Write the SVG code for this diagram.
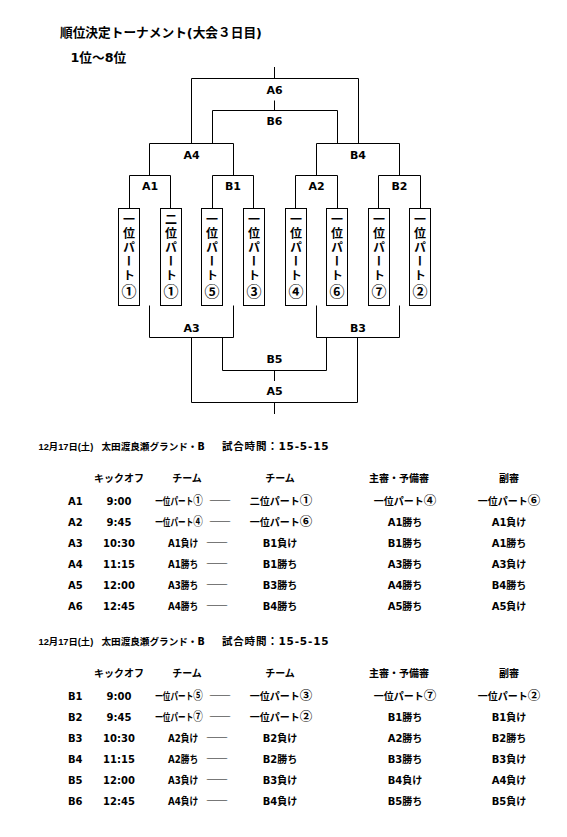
<svg xmlns="http://www.w3.org/2000/svg" width="567" height="837" viewBox="0 0 567 837">
<style>
.ln{fill:none;stroke:#000;stroke-width:1}
.bx{fill:#fff;stroke:#000;stroke-width:1}
.lb{font-family:"DejaVu Sans","Noto Sans CJK JP",sans-serif;font-weight:bold;font-size:11px;text-anchor:middle;fill:#000}
.vt{font-family:"Noto Sans CJK JP",sans-serif;font-weight:bold;font-size:12px;writing-mode:vertical-rl;text-anchor:middle;letter-spacing:2px;fill:#000}
.vc{font-size:15px}
.ttl{font-family:"DejaVu Sans","Noto Sans CJK JP",sans-serif;font-weight:bold;font-size:12.7px;fill:#000}
.tb{font-family:"DejaVu Sans","Noto Sans CJK JP",sans-serif;font-weight:bold;font-size:10px;text-anchor:middle;fill:#000}
.cd{font-family:"Noto Sans CJK JP",sans-serif;font-size:12.5px}
.id{font-family:"DejaVu Sans",sans-serif;font-weight:bold;font-size:10px;text-anchor:start;fill:#000}
.ds{font-family:"Noto Sans CJK JP",sans-serif;font-weight:normal;font-size:11px;text-anchor:middle;fill:#000}
.hd{font-family:"DejaVu Sans","Noto Sans CJK JP",sans-serif;font-weight:bold;font-size:9.6px;fill:#000}
.hs{font-family:"DejaVu Sans","Noto Sans CJK JP",sans-serif;font-weight:bold;font-size:10.5px;letter-spacing:0.8px;fill:#000}
.dt{font-family:"Liberation Sans","Noto Sans CJK JP",sans-serif;font-weight:bold;font-size:9.3px;fill:#000}
</style>
<rect width="567" height="837" fill="#fff"/>
<text class="ttl" x="60" y="37">順位決定トーナメント(大会３日目)</text>
<text class="ttl" x="70.5" y="62">1位～8位</text>

<g id="connectors">
<path class="ln" d="M274.5,67V78.5M274.5,100.5V110.5M274.5,370.5V381M274.5,402.5V414"/>
</g>

<g id="A6"><path class="ln" d="M191.5,143.5V78.5H358.5V143.5"/><text class="lb" x="274.5" y="93.5">A6</text></g>
<g id="B6"><path class="ln" d="M212.5,143.5V110.5H337.5V143.5"/><text class="lb" x="274.5" y="125">B6</text></g>
<g id="A4"><path class="ln" d="M149.5,175.5V143.5H233.5V175.5"/><text class="lb" x="191.5" y="158.5">A4</text></g>
<g id="B4"><path class="ln" d="M316.5,175.5V143.5H399.5V175.5"/><text class="lb" x="358" y="158.5">B4</text></g>
<g id="A1"><path class="ln" d="M129.5,208.5V175.5H170.5V208.5"/><text class="lb" x="150" y="190">A1</text></g>
<g id="B1"><path class="ln" d="M212.5,208.5V175.5H253.5V208.5"/><text class="lb" x="233" y="190">B1</text></g>
<g id="A2"><path class="ln" d="M295.5,208.5V175.5H337.5V208.5"/><text class="lb" x="316.5" y="190">A2</text></g>
<g id="B2"><path class="ln" d="M378.5,208.5V175.5H420.5V208.5"/><text class="lb" x="399.5" y="190">B2</text></g>
<g id="A3"><path class="ln" d="M149.5,305.5V337.5H233.5V305.5"/><text class="lb" x="191.5" y="331.5">A3</text></g>
<g id="B3"><path class="ln" d="M316.5,305.5V337.5H399.5V305.5"/><text class="lb" x="358" y="331.5">B3</text></g>
<g id="B5"><path class="ln" d="M222.5,337.5V370.5H326.5V337.5"/><text class="lb" x="274.5" y="363">B5</text></g>
<g id="A5"><path class="ln" d="M191.5,337.5V402.5H357.5V337.5"/><text class="lb" x="274.5" y="395">A5</text></g>

<g id="p1"><rect class="bx" x="118.5" y="208.5" width="21" height="97"/><text class="vt" x="129" y="257">一位パート<tspan class="vc">①</tspan></text></g>
<g id="p2"><rect class="bx" x="160.5" y="208.5" width="21" height="97"/><text class="vt" x="171" y="257">二位パート<tspan class="vc">①</tspan></text></g>
<g id="p3"><rect class="bx" x="201.5" y="208.5" width="21" height="97"/><text class="vt" x="212" y="257">一位パート<tspan class="vc">⑤</tspan></text></g>
<g id="p4"><rect class="bx" x="243.5" y="208.5" width="21" height="97"/><text class="vt" x="254" y="257">一位パート<tspan class="vc">③</tspan></text></g>
<g id="p5"><rect class="bx" x="285.5" y="208.5" width="21" height="97"/><text class="vt" x="296" y="257">一位パート<tspan class="vc">④</tspan></text></g>
<g id="p6"><rect class="bx" x="326.5" y="208.5" width="21" height="97"/><text class="vt" x="337" y="257">一位パート<tspan class="vc">⑥</tspan></text></g>
<g id="p7"><rect class="bx" x="368.5" y="208.5" width="21" height="97"/><text class="vt" x="379" y="257">一位パート<tspan class="vc">⑦</tspan></text></g>
<g id="p8"><rect class="bx" x="409.5" y="208.5" width="21" height="97"/><text class="vt" x="420" y="257">一位パート<tspan class="vc">②</tspan></text></g>

<g id="table1">
<text y="449.5"><tspan class="dt" x="38.5">12月17日(土)</tspan><tspan class="hd" x="101.5">太田渡良瀬グランド・B</tspan><tspan class="hs" x="222">試合時間：15-5-15</tspan></text>
<text class="tb" y="482"><tspan x="119">キックオフ</tspan><tspan x="187">チーム</tspan><tspan x="280">チーム</tspan><tspan x="399">主審・予備審</tspan><tspan x="509">副審</tspan></text>
<g class="tb">
<text y="504.6"><tspan class="id" x="68">A1</tspan><tspan x="119">9:00</tspan><tspan class="ds" x="220">――</tspan><tspan x="281">二位パート<tspan class="cd">①</tspan></tspan><tspan x="405">一位パート<tspan class="cd">④</tspan></tspan><tspan x="509">一位パート<tspan class="cd">⑥</tspan></tspan></text>
<text transform="translate(179,504.6) scale(0.76,1)">一位パート<tspan class="cd">①</tspan></text>
<text y="525.7"><tspan class="id" x="68">A2</tspan><tspan x="119">9:45</tspan><tspan class="ds" x="220">――</tspan><tspan x="281">一位パート<tspan class="cd">⑥</tspan></tspan><tspan x="405">A1勝ち</tspan><tspan x="509">A1負け</tspan></text>
<text transform="translate(179,525.7) scale(0.76,1)">一位パート<tspan class="cd">④</tspan></text>
<text y="546.9"><tspan class="id" x="68">A3</tspan><tspan x="119">10:30</tspan><tspan class="ds" x="217">――</tspan><tspan x="280">B1負け</tspan><tspan x="405">B1勝ち</tspan><tspan x="509">A1勝ち</tspan></text>
<text transform="translate(183,546.9) scale(0.87,1)">A1負け</text>
<text y="568"><tspan class="id" x="68">A4</tspan><tspan x="119">11:15</tspan><tspan class="ds" x="217">――</tspan><tspan x="280">B1勝ち</tspan><tspan x="405">A3勝ち</tspan><tspan x="509">A3負け</tspan></text>
<text transform="translate(183,568) scale(0.87,1)">A1勝ち</text>
<text y="589.2"><tspan class="id" x="68">A5</tspan><tspan x="119">12:00</tspan><tspan class="ds" x="217">――</tspan><tspan x="280">B3勝ち</tspan><tspan x="405">A4勝ち</tspan><tspan x="509">B4勝ち</tspan></text>
<text transform="translate(183,589.2) scale(0.87,1)">A3勝ち</text>
<text y="610.3"><tspan class="id" x="68">A6</tspan><tspan x="119">12:45</tspan><tspan class="ds" x="217">――</tspan><tspan x="280">B4勝ち</tspan><tspan x="405">A5勝ち</tspan><tspan x="509">A5負け</tspan></text>
<text transform="translate(183,610.3) scale(0.87,1)">A4勝ち</text>
</g>
</g>

<g id="table2" transform="translate(0,195)">
<text y="449.5"><tspan class="dt" x="38.5">12月17日(土)</tspan><tspan class="hd" x="101.5">太田渡良瀬グランド・B</tspan><tspan class="hs" x="222">試合時間：15-5-15</tspan></text>
<text class="tb" y="482"><tspan x="119">キックオフ</tspan><tspan x="187">チーム</tspan><tspan x="280">チーム</tspan><tspan x="399">主審・予備審</tspan><tspan x="509">副審</tspan></text>
<g class="tb">
<text y="504.6"><tspan class="id" x="68">B1</tspan><tspan x="119">9:00</tspan><tspan class="ds" x="220">――</tspan><tspan x="281">一位パート<tspan class="cd">③</tspan></tspan><tspan x="405">一位パート<tspan class="cd">⑦</tspan></tspan><tspan x="509">一位パート<tspan class="cd">②</tspan></tspan></text>
<text transform="translate(179,504.6) scale(0.76,1)">一位パート<tspan class="cd">⑤</tspan></text>
<text y="525.7"><tspan class="id" x="68">B2</tspan><tspan x="119">9:45</tspan><tspan class="ds" x="220">――</tspan><tspan x="281">一位パート<tspan class="cd">②</tspan></tspan><tspan x="405">B1勝ち</tspan><tspan x="509">B1負け</tspan></text>
<text transform="translate(179,525.7) scale(0.76,1)">一位パート<tspan class="cd">⑦</tspan></text>
<text y="546.9"><tspan class="id" x="68">B3</tspan><tspan x="119">10:30</tspan><tspan class="ds" x="217">――</tspan><tspan x="280">B2負け</tspan><tspan x="405">A2勝ち</tspan><tspan x="509">B2勝ち</tspan></text>
<text transform="translate(183,546.9) scale(0.87,1)">A2負け</text>
<text y="568"><tspan class="id" x="68">B4</tspan><tspan x="119">11:15</tspan><tspan class="ds" x="217">――</tspan><tspan x="280">B2勝ち</tspan><tspan x="405">B3勝ち</tspan><tspan x="509">B3負け</tspan></text>
<text transform="translate(183,568) scale(0.87,1)">A2勝ち</text>
<text y="589.2"><tspan class="id" x="68">B5</tspan><tspan x="119">12:00</tspan><tspan class="ds" x="217">――</tspan><tspan x="280">B3負け</tspan><tspan x="405">B4負け</tspan><tspan x="509">A4負け</tspan></text>
<text transform="translate(183,589.2) scale(0.87,1)">A3負け</text>
<text y="610.3"><tspan class="id" x="68">B6</tspan><tspan x="119">12:45</tspan><tspan class="ds" x="217">――</tspan><tspan x="280">B4負け</tspan><tspan x="405">B5勝ち</tspan><tspan x="509">B5負け</tspan></text>
<text transform="translate(183,610.3) scale(0.87,1)">A4負け</text>
</g>
</g>
</svg>
